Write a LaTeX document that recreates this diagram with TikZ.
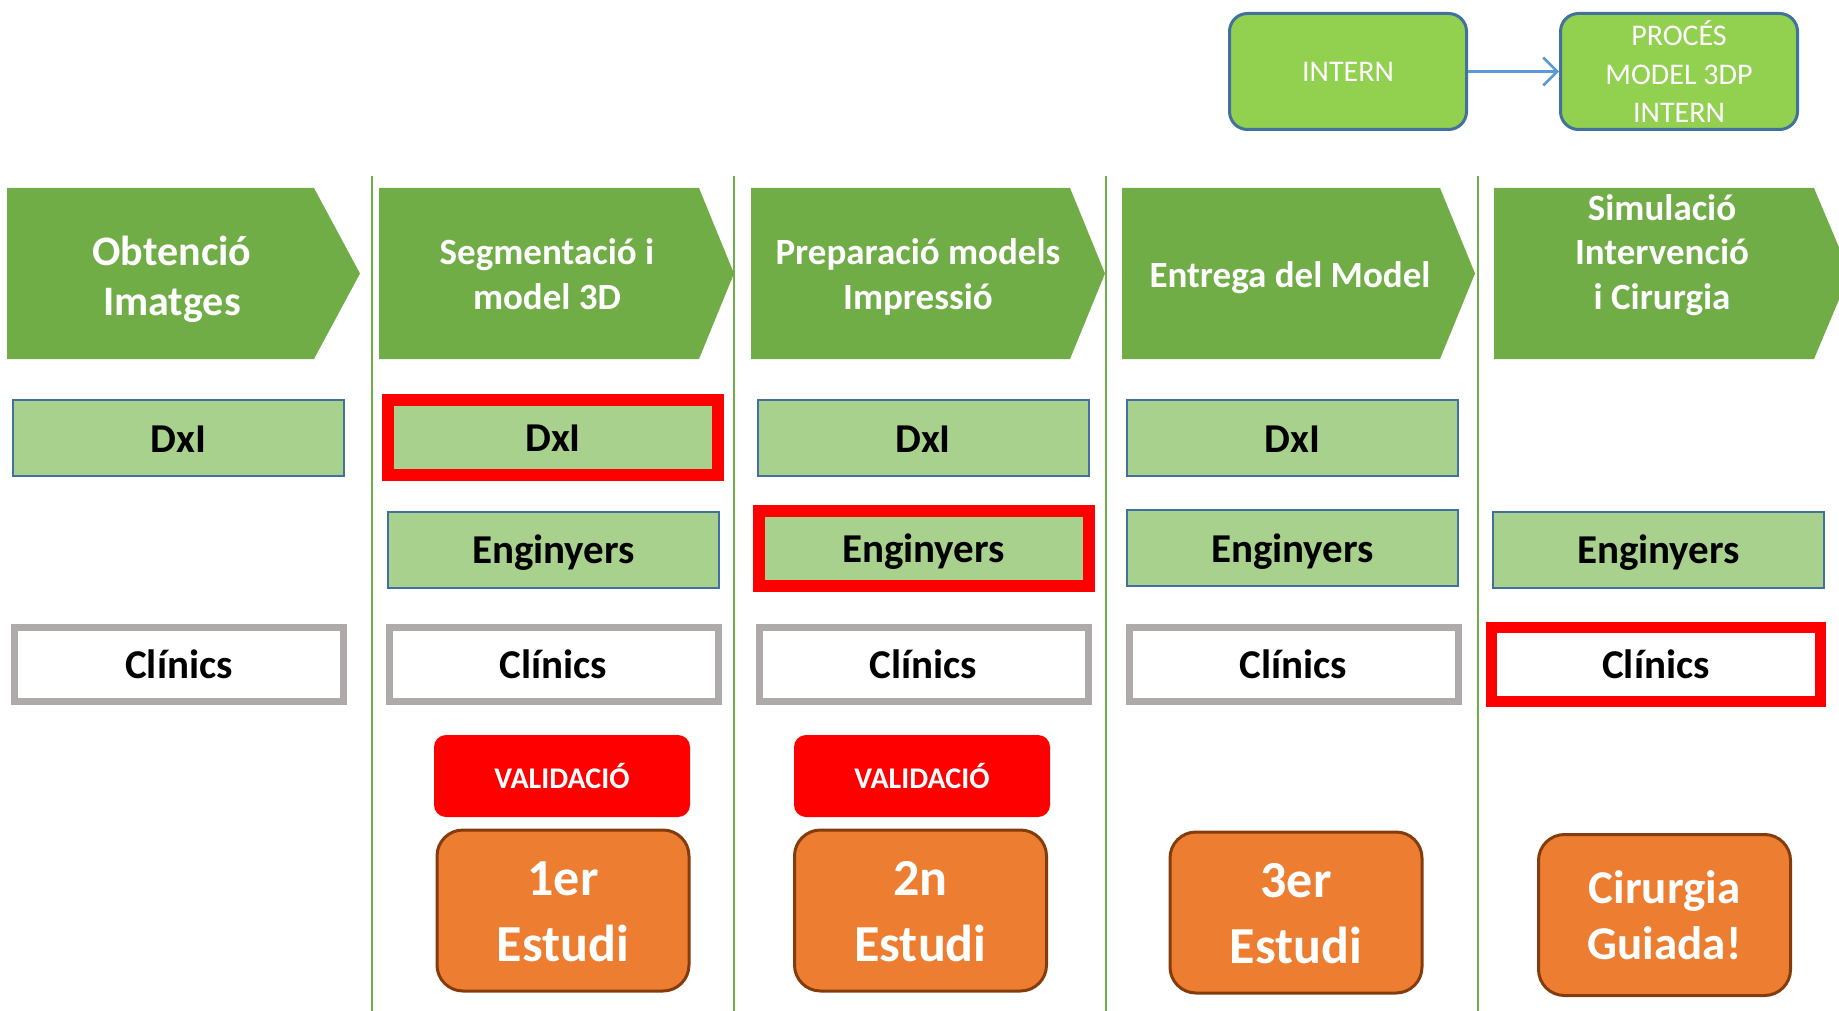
\documentclass[tikz,border=0pt]{standalone}
\usepackage{fontspec}
\setmainfont{Carlito}
\usetikzlibrary{arrows.meta}

\definecolor{chevgreen}{RGB}{112,173,71}
\definecolor{boxgreen}{RGB}{169,209,142}
\definecolor{topgreen}{RGB}{146,208,80}
\definecolor{bordblue}{RGB}{65,113,156}
\definecolor{arrowblue}{RGB}{91,155,213}
\definecolor{bordgray}{RGB}{174,170,170}
\definecolor{estorange}{RGB}{237,125,49}
\definecolor{estbrown}{RGB}{132,60,12}
\definecolor{valred}{RGB}{255,0,0}

\tikzset{every picture/.style={line width=0.75pt}}
\tikzset{
  colline/.style={draw=chevgreen, line width=1.5pt},
  chevfill/.style={fill=chevgreen},
  chevtext/.style={text=white, align=center, inner sep=0pt, font=\bfseries\fontsize{37}{44.5}\selectfont},
  rolebox/.style={draw=bordblue, fill=boxgreen, line width=2pt, minimum width=331pt, minimum height=76pt, inner sep=0pt, text height=30pt, text depth=2pt, font=\bfseries\fontsize{41}{49}\selectfont},
  rolered/.style={rolebox, draw=valred, line width=12pt, minimum width=330pt, minimum height=75pt},
  clinbox/.style={draw=bordgray, fill=white, line width=7pt, minimum width=329pt, minimum height=74pt, inner sep=0pt, text height=30pt, text depth=2pt, font=\bfseries\fontsize{41}{49}\selectfont},
  clinred/.style={clinbox, draw=valred, line width=11pt, minimum width=329pt, minimum height=74pt},
  valbox/.style={fill=valred, rounded corners=12pt, minimum width=256pt, minimum height=82pt, inner sep=0pt, text=white, font=\bfseries\fontsize{30}{36}\selectfont},
  estbox/.style={fill=estorange, draw=estbrown, line width=3pt, rounded corners=26pt, minimum width=252pt, minimum height=161pt, inner sep=0pt, text=white, align=center, font=\bfseries\fontsize{52}{66}\selectfont},
  topbox/.style={fill=topgreen, draw=bordblue, line width=3pt, rounded corners=18pt, minimum width=237pt, minimum height=116pt, inner sep=0pt, text=white, align=center, font=\fontsize{30}{38.5}\selectfont},
  arrowline/.style={draw=arrowblue, line width=2.5pt, -{Straight Barb[length=14pt,width=28pt,line width=2.5pt]}}
}

\begin{document}
\begin{tikzpicture}[x=1pt,y=1pt,yscale=-1]
	\useasboundingbox (0,0) rectangle (1839,1011);
	\clip (0,0) rectangle (1839,1011);
	
	%Straight Lines
	\draw [colline] (372,176) -- (372,1011);
	%Straight Lines
	\draw [colline] (734,176) -- (734,1011);
	%Straight Lines
	\draw [colline] (1106,176) -- (1106,1011);
	%Straight Lines
	\draw [colline] (1478,176) -- (1478,1011);
	
	%Shape: Pentagon
	\fill [chevfill] (7,188) -- (314,188) -- (360,273.5) -- (314,359) -- (7,359) -- cycle;
	%Shape: Pentagon
	\fill [chevfill] (379,188) -- (699,188) -- (734,273.5) -- (699,359) -- (379,359) -- cycle;
	%Shape: Pentagon
	\fill [chevfill] (751,188) -- (1070,188) -- (1105,273.5) -- (1070,359) -- (751,359) -- cycle;
	%Shape: Pentagon
	\fill [chevfill] (1122,188) -- (1440,188) -- (1475,273.5) -- (1440,359) -- (1122,359) -- cycle;
	%Shape: Pentagon
	\fill [chevfill] (1494,188) -- (1814,188) -- (1850,273.5) -- (1814,359) -- (1494,359) -- cycle;
	
	% Text Node
	\node [chevtext, font=\bfseries\fontsize{42}{50}\selectfont] (ph1) at (172,279) {Obtenció\\Imatges};
	% Text Node
	\node [chevtext] (ph2) at (547,274) {Segmentació i\\model 3D};
	% Text Node
	\node [chevtext] (ph3) at (918,277) {Preparació models\\Impressió};
	% Text Node
	\node [chevtext] (ph4) at (1290,278) {Entrega del Model};
	% Text Node
	\node [chevtext] (ph5) at (1662,255) {Simulació\\Intervenció\\i Cirurgia};
	
	% Text Node
	\node [topbox] (intern) at (1348,71.5) {INTERN};
	% Text Node
	\node [topbox] (proces) at (1679,71.5) {PROCÉS\\MODEL 3DP\\INTERN};
	%Straight Lines
	\draw [arrowline] (intern) -- (proces);
	
	% Text Node
	\node [rolebox] (dxi1) at (178.5,438) {DxI};
	% Text Node
	\node [rolered] (dxi2) at (553,437.5) {DxI};
	% Text Node
	\node [rolebox] (dxi3) at (923,438) {DxI};
	% Text Node
	\node [rolebox] (dxi4) at (1292.5,438) {DxI};
	
	% Text Node
	\node [rolebox] (eng2) at (553.5,549.5) {Enginyers};
	% Text Node
	\node [rolered] (eng3) at (923.5,548.5) {Enginyers};
	% Text Node
	\node [rolebox] (eng4) at (1292.5,548) {Enginyers};
	% Text Node
	\node [rolebox] (eng5) at (1658.5,549.5) {Enginyers};
	
	% Text Node
	\node [clinbox] (clin1) at (179,664.5) {Clínics};
	% Text Node
	\node [clinbox] (clin2) at (553.5,664.5) {Clínics};
	% Text Node
	\node [clinbox] (clin3) at (923.5,664.5) {Clínics};
	% Text Node
	\node [clinbox] (clin4) at (1293.5,664.5) {Clínics};
	% Text Node
	\node [clinred] (clin5) at (1656,664.5) {Clínics};
	
	% Text Node
	\node [valbox] (val2) at (562,776) {VALIDACIÓ};
	% Text Node
	\node [valbox] (val3) at (922,776) {VALIDACIÓ};
	
	% Text Node
	\node [estbox] (est2) at (563,910.5) {\rule{0pt}{37pt}1er\\Estudi};
	% Text Node
	\node [estbox] (est3) at (920.5,910.5) {\rule{0pt}{37pt}2n\\Estudi};
	% Text Node
	\node [estbox] (est4) at (1296,912.5) {\rule{0pt}{37pt}3er\\Estudi};
	% Text Node
	\node [estbox, font=\bfseries\fontsize{47}{56}\selectfont] (est5) at (1664.5,915) {Cirurgia\\Guiada!};
	
\end{tikzpicture}
\end{document}
